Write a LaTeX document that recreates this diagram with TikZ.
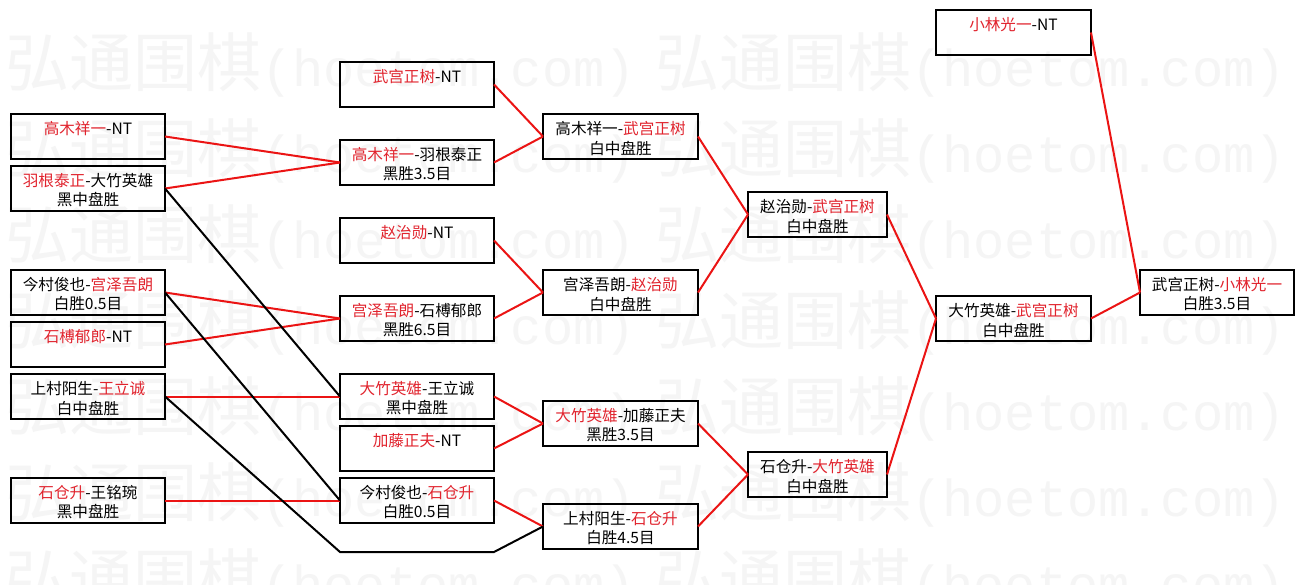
\documentclass[tikz,border=0pt]{standalone}
\usepackage{fontspec}
\setmainfont{Noto Sans CJK SC}
\newfontfamily\wmmono{Liberation Mono}
\definecolor{tred}{RGB}{225,35,45}
\definecolor{lred}{RGB}{235,20,20}
\definecolor{wm}{RGB}{245,245,245}
\newcommand\rd[1]{\textcolor{tred}{#1}}
\newcommand\gamebox[7][box]{%
  \node[#1, anchor=north west, minimum width=#5pt, minimum height=45pt] (#2) at (#3,#4) {};
  \node[txt] at ({#3+#5/2},{#4+15}) {#6};
  \node[txt] at ({#3+#5/2},{#4+34}) {#7};}
\begin{document}
\begin{tikzpicture}[x=1pt,y=-1pt,
  box/.style={draw=black, line width=1.8pt, inner sep=0pt, outer sep=0pt},
  boldbox/.style={box, line width=2.8pt},
  txt/.style={inner sep=0pt, font=\fontsize{15.6}{19}\selectfont},
  win/.style={draw=lred, line width=2pt},
  lose/.style={draw=black, line width=2pt},
  wmark/.style={anchor=west, text=wm, inner sep=0pt}]
\useasboundingbox (0,0) rectangle (1305,585);
\fill[white] (0,0) rectangle (1305,585);
% watermark
\foreach \yy in {65,151,237,323,409,495,581}
  \foreach \xx in {5,655}
    \node[wmark] at (\xx,\yy) {\fontsize{64}{64}\selectfont 弘通围棋{\wmmono\fontsize{52}{52}\selectfont(hoetom.com)}};
% column A
\gamebox{A1}{11}{114}{154}{\rd{高木祥一}-NT}{}
\gamebox[boldbox]{A2}{11}{166}{154}{\rd{羽根泰正}-大竹英雄}{黑中盘胜}
\gamebox[boldbox]{A3}{11}{270}{154}{今村俊也-\rd{宫泽吾朗}}{白胜0.5目}
\gamebox{A4}{11}{322}{154}{\rd{石榑郁郎}-NT}{}
\gamebox[boldbox]{A5}{11}{374}{154}{上村阳生-\rd{王立诚}}{白中盘胜}
\gamebox{A6}{11}{478}{154}{\rd{石仓升}-王铭琬}{黑中盘胜}
% column B
\gamebox{B1}{340}{62}{154}{\rd{武宫正树}-NT}{}
\gamebox{B2}{340}{140}{154}{\rd{高木祥一}-羽根泰正}{黑胜3.5目}
\gamebox{B3}{340}{218}{154}{\rd{赵治勋}-NT}{}
\gamebox{B4}{340}{296}{154}{\rd{宫泽吾朗}-石榑郁郎}{黑胜6.5目}
\gamebox{B5}{340}{374}{154}{\rd{大竹英雄}-王立诚}{黑中盘胜}
\gamebox{B6}{340}{426}{154}{\rd{加藤正夫}-NT}{}
\gamebox{B7}{340}{478}{154}{今村俊也-\rd{石仓升}}{白胜0.5目}
% column C
\gamebox{C1}{543}{114}{155}{高木祥一-\rd{武宫正树}}{白中盘胜}
\gamebox{C2}{543}{270}{155}{宫泽吾朗-\rd{赵治勋}}{白中盘胜}
\gamebox{C3}{543}{401}{155}{\rd{大竹英雄}-加藤正夫}{黑胜3.5目}
\gamebox{C4}{543}{504}{155}{上村阳生-\rd{石仓升}}{白胜4.5目}
% column D
\gamebox{D1}{748}{192}{139}{赵治勋-\rd{武宫正树}}{白中盘胜}
\gamebox{D2}{748}{452}{139}{石仓升-\rd{大竹英雄}}{白中盘胜}
% column E
\gamebox{E1}{936}{10}{155}{\rd{小林光一}-NT}{}
\gamebox{E2}{936}{296}{155}{大竹英雄-\rd{武宫正树}}{白中盘胜}
% column F
\gamebox{F1}{1140}{270}{154}{武宫正树-\rd{小林光一}}{白胜3.5目}
% bend points of the loser path
\coordinate (p1) at (340,552);
\coordinate (p2) at (494,552);
% winners
\draw[win] (A1.east) -- (B2.west);
\draw[win] (A2.east) -- (B2.west);
\draw[win] (A3.east) -- (B4.west);
\draw[win] (A4.east) -- (B4.west);
\draw[win] (A5.east) -- (B5.west);
\draw[win] (A6.east) -- (B7.west);
\draw[win] (B1.east) -- (C1.west);
\draw[win] (B2.east) -- (C1.west);
\draw[win] (B3.east) -- (C2.west);
\draw[win] (B4.east) -- (C2.west);
\draw[win] (B5.east) -- (C3.west);
\draw[win] (B6.east) -- (C3.west);
\draw[win] (B7.east) -- (C4.west);
\draw[win] (C1.east) -- (D1.west);
\draw[win] (C2.east) -- (D1.west);
\draw[win] (C3.east) -- (D2.west);
\draw[win] (C4.east) -- (D2.west);
\draw[win] (D1.east) -- (E2.west);
\draw[win] (D2.east) -- (E2.west);
\draw[win] (E1.east) -- (F1.west);
\draw[win] (E2.east) -- (F1.west);
% losers
\draw[lose] (A2.east) -- (B5.west);
\draw[lose] (A3.east) -- (B7.west);
\draw[lose] (A5.east) -- (p1) -- (p2) -- (C4.west);
\end{tikzpicture}
\end{document}
